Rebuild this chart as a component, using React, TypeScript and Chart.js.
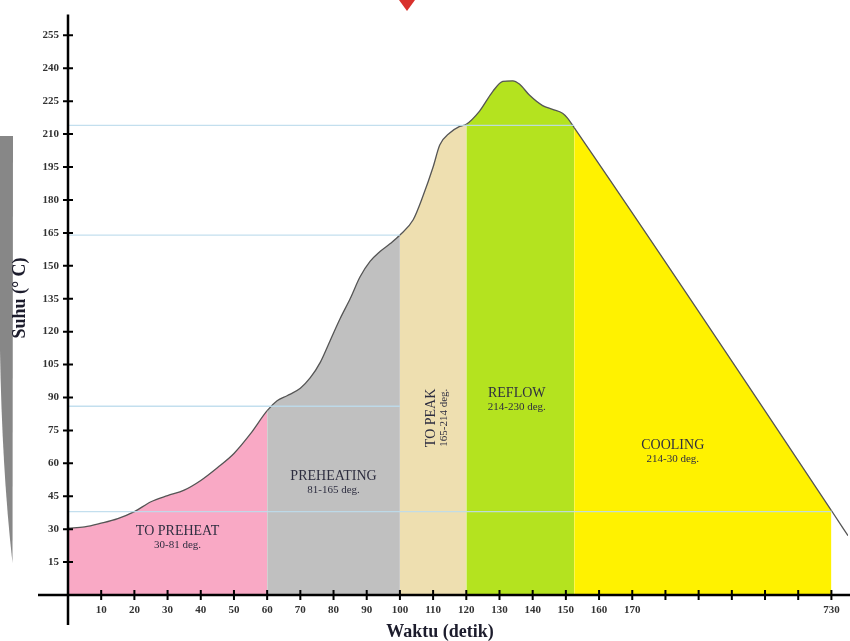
import { useEffect, useRef } from "react";
import { Chart, registerables } from "chart.js";

Chart.register(...registerables);

// ---- data ----
const timeSec = [0, 5, 10, 15, 20, 25, 30, 35, 40, 45, 50, 55, 60, 63, 66, 70, 73, 76, 79, 82, 85, 88, 91, 94, 97, 100, 104, 107, 110, 112, 115, 118, 120, 124, 128, 131, 134, 136, 139, 143, 146, 149, 150.5, 152.5, 230, 235];
const tempC = [30.5, 31, 32.7, 34.8, 38, 42.5, 45.3, 47.8, 52.2, 58, 64.5, 73.5, 84, 88.5, 90.8, 94.2, 99, 106, 116, 126, 135, 145, 152, 156.5, 160, 164, 171, 182, 195, 205, 210.5, 213.5, 214.5, 220.5, 229.5, 234, 234.3, 232.8, 227.8, 223, 221.3, 219.5, 217.3, 213, 38.5, 27];

const zoneNames = ["TO PREHEAT", "PREHEATING", "TO PEAK", "REFLOW", "COOLING"];
const zoneRanges = ["30-81 deg.", "81-165 deg.", "165-214 deg.", "214-230 deg.", "214-30 deg."];
const zoneStart = [0, 60, 100, 120, 152.5];
const zoneEnd = [60, 100, 120, 152.5, 230];
const zoneColors = ["#F9A9C5", "#C0C0C0", "#EEDFB0", "#B4E31F", "#FFF200"];

const refTemps = [214, 164, 86, 38];
const refEnd = [152.5, 100, 100, 230];

const yTicks = [15, 30, 45, 60, 75, 90, 105, 120, 135, 150, 165, 180, 195, 210, 225, 240, 255];
const xTicks = [10, 20, 30, 40, 50, 60, 70, 80, 90, 100, 110, 120, 130, 140, 150, 160, 170, 180, 190, 200, 210, 220, 230];
const xTickLabels = ["10", "20", "30", "40", "50", "60", "70", "80", "90", "100", "110", "120", "130", "140", "150", "160", "170", "", "", "", "", "", "730"];

// annotation anchors (data coordinates)
const labelX = [33, 80, 109.6, 135.2, 182.2];
const labelY = [29, 54, 94, 91.8, 68.3];

const SERIF = '"Liberation Serif", "Times New Roman", serif';

function zoneColorAt(x: number): string {
  for (let i = 0; i < zoneStart.length; i++) {
    if (x >= zoneStart[i] && x < zoneEnd[i]) return zoneColors[i];
  }
  return "rgba(0,0,0,0)";
}

const decorPlugin = {
  id: "decor",
  beforeDraw(chart: any) {
    const ctx = chart.ctx;
    ctx.save();
    ctx.fillStyle = "#ffffff";
    ctx.fillRect(0, 0, chart.width, chart.height);
    // gray crescent at left edge
    ctx.fillStyle = "#878787";
    ctx.beginPath();
    ctx.moveTo(0, 136);
    ctx.lineTo(13, 136);
    ctx.lineTo(12.5, 563);
    ctx.quadraticCurveTo(2, 470, 0, 350);
    ctx.closePath();
    ctx.fill();
    // red mark at top
    ctx.fillStyle = "#d8302c";
    ctx.beginPath();
    ctx.moveTo(399, 0);
    ctx.lineTo(415, 0);
    ctx.lineTo(407, 11);
    ctx.closePath();
    ctx.fill();
    ctx.restore();
  },
  afterDatasetsDraw(chart: any) {
    const ctx = chart.ctx;
    const xs = chart.scales.x;
    const ys = chart.scales.y;
    ctx.save();
    ctx.fillStyle = "#2e2e40";
    ctx.textBaseline = "middle";
    for (let i = 0; i < zoneNames.length; i++) {
      const px = xs.getPixelForValue(labelX[i]);
      const py = ys.getPixelForValue(labelY[i]);
      if (i === 2) {
        ctx.save();
        ctx.translate(px, py);
        ctx.rotate(-Math.PI / 2);
        ctx.textAlign = "right";
        ctx.font = `14px ${SERIF}`;
        ctx.fillText(zoneNames[i], 0, 0);
        ctx.font = `11px ${SERIF}`;
        ctx.fillText(zoneRanges[i], 0, 12);
        ctx.restore();
      } else {
        ctx.textAlign = "center";
        ctx.font = `14px ${SERIF}`;
        ctx.fillText(zoneNames[i], px, py);
        ctx.font = `11px ${SERIF}`;
        ctx.fillText(zoneRanges[i], px, py + 14);
      }
    }
    ctx.restore();
  },
  afterDraw(chart: any) {
    const ctx = chart.ctx;
    const xs = chart.scales.x;
    const ys = chart.scales.y;
    const x0 = xs.getPixelForValue(0);
    const y0 = ys.getPixelForValue(0);
    ctx.save();
    ctx.strokeStyle = "#000";
    ctx.lineWidth = 2.5;
    ctx.beginPath();
    ctx.moveTo(38, y0);
    ctx.lineTo(chart.width, y0);
    ctx.moveTo(x0, chart.chartArea.top - 1);
    ctx.lineTo(x0, 625);
    ctx.stroke();
    ctx.lineWidth = 2;
    ctx.beginPath();
    for (const v of yTicks) {
      const py = ys.getPixelForValue(v);
      ctx.moveTo(x0 - 5, py);
      ctx.lineTo(x0 + 5, py);
    }
    for (const v of xTicks) {
      const px = xs.getPixelForValue(v);
      ctx.moveTo(px, y0 - 5);
      ctx.lineTo(px, y0 + 5);
    }
    ctx.stroke();
    // axis titles
    ctx.fillStyle = "#1c1c2c";
    ctx.font = `bold 18px ${SERIF}`;
    ctx.textAlign = "center";
    ctx.textBaseline = "middle";
    ctx.fillText("Waktu (detik)", 440, 632);
    ctx.save();
    ctx.translate(20, 298);
    ctx.rotate(-Math.PI / 2);
    ctx.fillText("Suhu (° C)", 0, 0);
    ctx.restore();
    ctx.restore();
  },
};

export default function App() {
  const ref = useRef<HTMLCanvasElement | null>(null);

  useEffect(() => {
    if (!ref.current) return;
    const curve = timeSec.map((t, i) => ({ x: t, y: tempC[i] }));
    const refSets = refTemps.map((t, i) => ({
      type: "line" as const,
      data: [
        { x: 0, y: t },
        { x: refEnd[i], y: t },
      ],
      borderColor: "rgba(188,220,236,0.9)",
      borderWidth: 1.3,
      pointRadius: 0,
      fill: false,
      tension: 0,
    }));
    const chart = new Chart(ref.current, {
      type: "line",
      data: {
        datasets: [
          ...refSets,
          {
            data: curve,
            borderColor: "#555555",
            borderWidth: 1.3,
            pointRadius: 0,
            cubicInterpolationMode: "monotone",
            fill: "origin",
            backgroundColor: "rgba(0,0,0,0)",
            segment: {
              backgroundColor: (c: any) => zoneColorAt((c.p0.parsed.x + c.p1.parsed.x) / 2),
            },
          } as any,
        ],
      },
      options: {
        responsive: false,
        animation: false,
        devicePixelRatio: 1,
        layout: { padding: { top: 11, right: 2, left: 0, bottom: 0 } },
        plugins: { legend: { display: false }, tooltip: { enabled: false } },
        scales: {
          x: {
            type: "linear",
            min: 0,
            max: 235,
            grid: { display: false, drawTicks: false },
            border: { display: false },
            afterBuildTicks: (s: any) => {
              s.ticks = xTicks.map((v) => ({ value: v }));
            },
            afterFit: (s: any) => {
              s.height = 46;
            },
            ticks: {
              autoSkip: false,
              maxRotation: 0,
              padding: 9,
              color: "#333",
              font: { family: SERIF, size: 11, weight: "bold" },
              callback: (v: any) => {
                const idx = xTicks.indexOf(Number(v));
                return idx >= 0 ? xTickLabels[idx] : "";
              },
            },
          },
          y: {
            type: "linear",
            min: 0,
            max: 264,
            grid: { display: false, drawTicks: false },
            border: { display: false },
            afterBuildTicks: (s: any) => {
              s.ticks = yTicks.map((v) => ({ value: v }));
            },
            afterFit: (s: any) => {
              s.width = 68;
            },
            ticks: {
              padding: 9,
              color: "#333",
              font: { family: SERIF, size: 11, weight: "bold" },
            },
          },
        },
      } as any,
      plugins: [decorPlugin],
    });
    return () => chart.destroy();
  }, []);

  return (
    <div style={{ position: "absolute", left: 0, top: 0, width: 850, height: 641 }}>
      <canvas ref={ref} width={850} height={641} />
    </div>
  );
}
